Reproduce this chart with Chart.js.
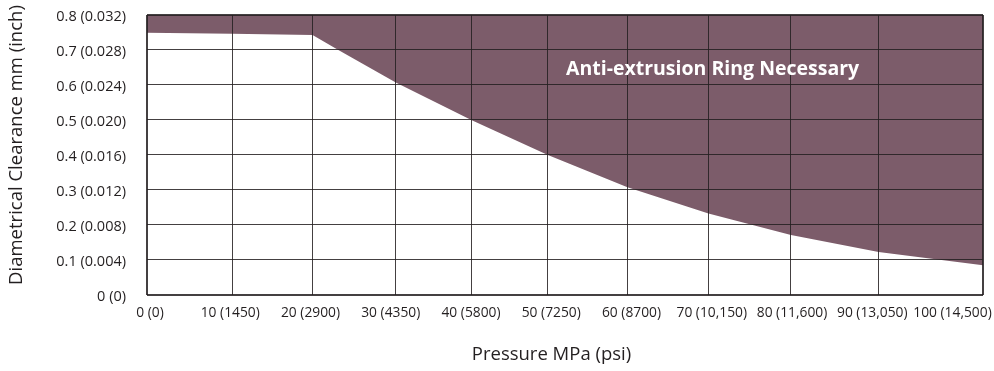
<!DOCTYPE html>
<html>
<head>
<meta charset="utf-8">
<title>Diametrical clearance vs pressure</title>
<script src="https://cdn.jsdelivr.net/npm/chart.js@4.4.1/dist/chart.umd.min.js"></script>
<style>
  html, body { margin: 0; padding: 0; background: #fff; }
</style>
</head>
<body>
<canvas id="chart" width="994" height="371"></canvas>
<script>
'use strict';

// ── Data ─────────────────────────────────────────────────────────────────────

// Boundary of the "ring necessary" region.
const PRESSURE_MPA = [0, 10, 20, 23.1, 30, 40, 50, 60, 70, 80, 90, 100];
const CLEARANCE_MM = [0.749, 0.746, 0.743, 0.700, 0.607, 0.499, 0.399, 0.307, 0.232, 0.170, 0.122, 0.084];

const X_TICKS  = [0, 10, 20, 30, 40, 50, 60, 70, 80, 90, 100];
const X_LABELS = ['0 (0)', '10 (1450)', '20 (2900)', '30 (4350)', '40 (5800)', '50 (7250)',
                  '60 (8700)', '70 (10,150)', '80 (11,600)', '90 (13,050)', '100 (14,500)'];

const Y_TICKS  = [0, 0.1, 0.2, 0.3, 0.4, 0.5, 0.6, 0.7, 0.8];
const Y_LABELS = ['0 (0)', '0.1 (0.004)', '0.2 (0.008)', '0.3 (0.012)', '0.4 (0.016)',
                  '0.5 (0.020)', '0.6 (0.024)', '0.7 (0.028)', '0.8 (0.032)'];

const X_TITLE   = 'Pressure MPa (psi)';
const Y_TITLE   = 'Diametrical Clearance mm (inch)';
const NOTE_TEXT = 'Anti-extrusion Ring Necessary';
const NOTE_AT   = [70.5, 0.628];   // MPa, mm

// The original's pressure gridlines are not evenly spaced; this is where each
// tick of X_TICKS sits along the axis (0 = left edge, 1 = right edge).
const X_GRID_FRACTION = [0, 0.1017, 0.1980, 0.2976, 0.3885, 0.4795, 0.5747, 0.6716, 0.7703, 0.8751, 1];

// ── Style ────────────────────────────────────────────────────────────────────

const FILL = '#7c5c6a';
const INK  = '#231f20';
const GRID = 'rgba(35, 31, 32, 0.85)';
const FONT = '"Open Sans", sans-serif';

Chart.defaults.font.family = FONT;
Chart.defaults.color = INK;

// ── Uneven pressure axis ─────────────────────────────────────────────────────

function warp(v) {
  for (let i = 1; i < X_TICKS.length; i++) {
    if (v <= X_TICKS[i] || i === X_TICKS.length - 1) {
      const t = (v - X_TICKS[i - 1]) / (X_TICKS[i] - X_TICKS[i - 1]);
      return X_GRID_FRACTION[i - 1] + t * (X_GRID_FRACTION[i] - X_GRID_FRACTION[i - 1]);
    }
  }
  return 0;
}

class WarpedScale extends Chart.LinearScale {
  getPixelForValue(value) {
    if (value == null || isNaN(value)) return NaN;
    return this.getPixelForDecimal(warp(value));
  }
}
WarpedScale.id = 'warped';
WarpedScale.defaults = Chart.LinearScale.defaults;
Chart.register(WarpedScale);

// ── Text drawn on top (note + axis titles) ───────────────────────────────────

const textPlugin = {
  id: 'texts',
  afterDraw(chart) {
    const { ctx, scales: { x, y } } = chart;
    ctx.save();
    ctx.fillStyle = '#fff';
    ctx.font = 'bold 19.5px ' + FONT;
    ctx.textAlign = 'center';
    ctx.textBaseline = 'alphabetic';
    ctx.fillText(NOTE_TEXT, x.getPixelForValue(NOTE_AT[0]), y.getPixelForValue(NOTE_AT[1]));

    ctx.fillStyle = INK;
    ctx.font = '18.5px ' + FONT;
    ctx.textBaseline = 'middle';
    ctx.fillText(X_TITLE, 551.5, 355);
    ctx.translate(16.5, 145);
    ctx.rotate(-Math.PI / 2);
    ctx.fillText(Y_TITLE, 0, 0);
    ctx.restore();
  },
};

// ── Chart ────────────────────────────────────────────────────────────────────

const edgeWidth = (last) => (c) => (c.index === 0 || c.index === last ? 2 : 1);

new Chart(document.getElementById('chart'), {
  type: 'line',
  data: {
    datasets: [{
      data: PRESSURE_MPA.map((p, i) => ({ x: p, y: CLEARANCE_MM[i] })),
      fill: 'end',
      backgroundColor: FILL,
      borderColor: FILL,
      borderWidth: 0,
      pointRadius: 0,
      tension: 0,
      xAxisID: 'x',
      yAxisID: 'y',
    }],
  },
  options: {
    responsive: false,
    animation: false,
    events: [],
    layout: { padding: { top: 15, right: 11, bottom: 0, left: 0 } },
    plugins: { legend: { display: false }, tooltip: { enabled: false } },
    scales: {
      // gridlines only, placed where the drawing has them
      x: {
        type: 'warped',
        position: 'bottom',
        min: 0,
        max: 100,
        afterBuildTicks: (s) => { s.ticks = X_TICKS.map((v) => ({ value: v })); },
        ticks: { display: false },
        grid: { z: 1, drawTicks: false, color: GRID, lineWidth: edgeWidth(X_TICKS.length - 1) },
        border: { display: false },
        afterFit: (s) => { s.height = 0; s.paddingLeft = 0; s.paddingRight = 0; },
      },
      // labels only: they are evenly spaced in the drawing
      xl: {
        type: 'linear',
        position: 'bottom',
        min: -0.37,
        max: 103.8,
        afterBuildTicks: (s) => { s.ticks = X_TICKS.map((v) => ({ value: v })); },
        ticks: {
          callback: (v, i) => X_LABELS[i],
          autoSkip: false,
          maxRotation: 0,
          padding: 10,
          color: INK,
          font: { size: 13.8 },
        },
        grid: { display: false, drawTicks: false },
        border: { display: false },
        afterFit: (s) => { s.height = 76.5; s.paddingLeft = 0; s.paddingRight = 0; },
      },
      y: {
        min: 0,
        max: 0.8,
        afterBuildTicks: (s) => { s.ticks = Y_TICKS.map((v) => ({ value: v })); },
        ticks: {
          callback: (v, i) => Y_LABELS[i],
          padding: 21,
          labelOffset: 2,
          color: INK,
          font: { size: 14.5 },
        },
        grid: { z: 1, drawTicks: false, color: GRID, lineWidth: edgeWidth(Y_TICKS.length - 1) },
        border: { display: false },
        afterFit: (s) => { s.width = 147; s.paddingTop = 0; s.paddingBottom = 0; },
      },
    },
  },
  plugins: [textPlugin],
});
</script>
</body>
</html>
